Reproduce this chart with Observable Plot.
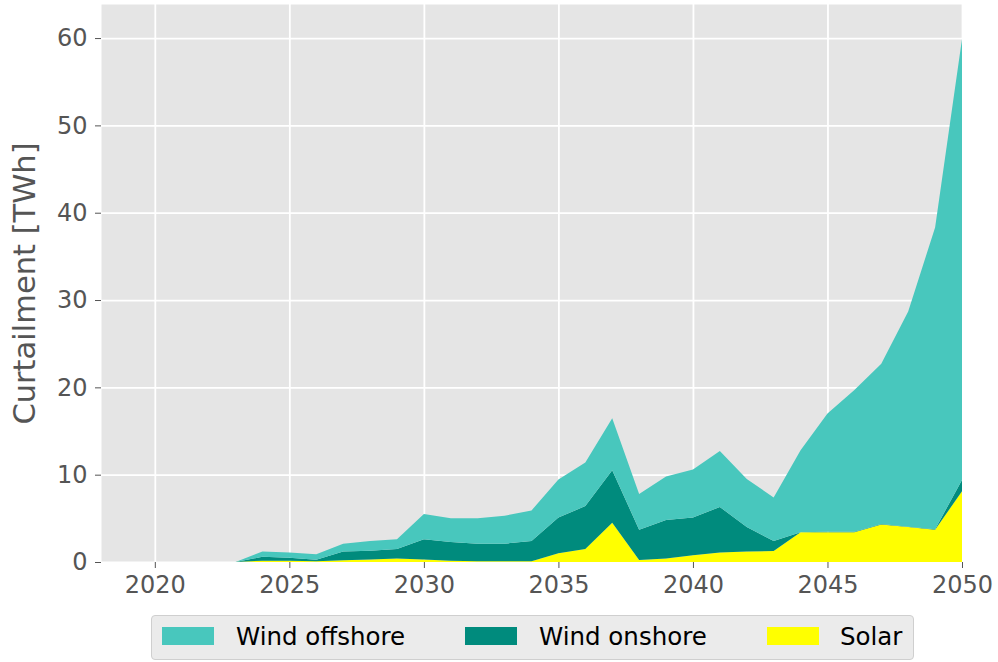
<!DOCTYPE html>
<html>
<head>
<meta charset="utf-8">
<script src="https://cdn.jsdelivr.net/npm/d3@7"></script>
<script src="https://cdn.jsdelivr.net/npm/@observablehq/plot@0.6"></script>
<style>
  html, body { margin: 0; padding: 0; background: #fff; }
  #wrap { position: relative; width: 998px; height: 662px; font-family: "DejaVu Sans", sans-serif; }
  #legend { position: absolute; left: 151px; top: 615px; width: 763px; height: 45px;
    background: #ebebeb; border: 1px solid #cfcfcf; border-radius: 4px; box-sizing: border-box; }
  .item { position: absolute; top: 11px; height: 18px; }
  .sw { position: absolute; top: 0; width: 52px; height: 18px; }
  .lb { position: absolute; top: -4px; font-size: 24.5px; color: #000; white-space: nowrap; line-height: 28px; }
</style>
</head>
<body>
<div id="wrap"></div>
<script>
const years = d3.range(2020, 2051);
const seriesNames = ["Wind offshore", "Wind onshore", "Solar"];
const seriesColors = ["#48c7bd", "#008b7d", "#ffff00"];
const solar = [0,0,0,0,0.15,0.15,0.1,0.2,0.3,0.4,0.3,0.15,0.1,0.1,0.1,1.0,1.5,4.5,0.23,0.4,0.76,1.1,1.2,1.26,3.4,3.4,3.4,4.3,4.0,3.7,8.1];
const windOnshore = [0,0,0,0,0.45,0.35,0.17,1.0,1.0,1.1,2.3,2.15,2.0,2.0,2.3,4.1,4.9,6.0,3.47,4.4,4.34,5.2,2.8,1.14,0.0,0.05,0.05,0.05,0.05,0.05,1.3];
const windOffshore = [0,0,0,0,0.6,0.6,0.63,0.9,1.1,1.1,2.9,2.7,2.9,3.2,3.5,4.35,5.0,5.95,4.1,5.0,5.5,6.4,5.5,5.0,9.4,13.55,16.25,18.35,24.65,34.55,50.5];
const xTicks = [2020, 2025, 2030, 2035, 2040, 2045, 2050];
const yTicks = [0, 10, 20, 30, 40, 50, 60];
const yLabel = "Curtailment [TWh]";

const valuesBySeries = {"Solar": solar, "Wind onshore": windOnshore, "Wind offshore": windOffshore};
const data = [];
for (const s of ["Solar", "Wind onshore", "Wind offshore"]) {
  years.forEach((yr, i) => data.push({year: yr, series: s, value: valuesBySeries[s][i]}));
}

const plot = Plot.plot({
  width: 998,
  height: 608,
  marginLeft: 101,
  marginRight: 36,
  marginTop: 4,
  marginBottom: 46,
  style: {fontFamily: "DejaVu Sans, sans-serif", background: "#fff", overflow: "visible"},
  x: {domain: [2018, 2050]},
  y: {domain: [0, 63.9]},
  color: {domain: seriesNames, range: seriesColors},
  marks: [
    Plot.frame({fill: "#e5e5e5", stroke: null}),
    Plot.gridX(xTicks, {stroke: "#fff", strokeOpacity: 1, strokeWidth: 1.8}),
    Plot.gridY(yTicks, {stroke: "#fff", strokeOpacity: 1, strokeWidth: 1.8}),
    Plot.areaY(data, {x: "year", y: "value", fill: "series", order: ["Solar", "Wind onshore", "Wind offshore"], curve: "linear"}),
    Plot.axisX(xTicks, {tickFormat: d => String(d), fontSize: 24, color: "#555", tickSize: 6, tickPadding: 7, label: null}),
    Plot.axisY(yTicks, {fontSize: 24, color: "#555", tickSize: 6, tickPadding: 8, label: null}),
    Plot.text([yLabel], {frameAnchor: "left", dx: -76, rotate: -90, fontSize: 30.5, fill: "#555", textAnchor: "middle"})
  ]
});

const wrap = document.getElementById("wrap");
wrap.appendChild(plot);

const legend = document.createElement("div");
legend.id = "legend";
const positions = [{sw: 10, lb: 84}, {sw: 313, lb: 387}, {sw: 615, lb: 688}];
seriesNames.forEach((name, i) => {
  const it = document.createElement("div");
  it.className = "item";
  it.style.left = "0px";
  const sw = document.createElement("div");
  sw.className = "sw";
  sw.style.left = positions[i].sw + "px";
  sw.style.background = seriesColors[i];
  const lb = document.createElement("div");
  lb.className = "lb";
  lb.style.left = positions[i].lb + "px";
  lb.textContent = name;
  it.appendChild(sw);
  it.appendChild(lb);
  legend.appendChild(it);
});
wrap.appendChild(legend);
</script>
</body>
</html>
